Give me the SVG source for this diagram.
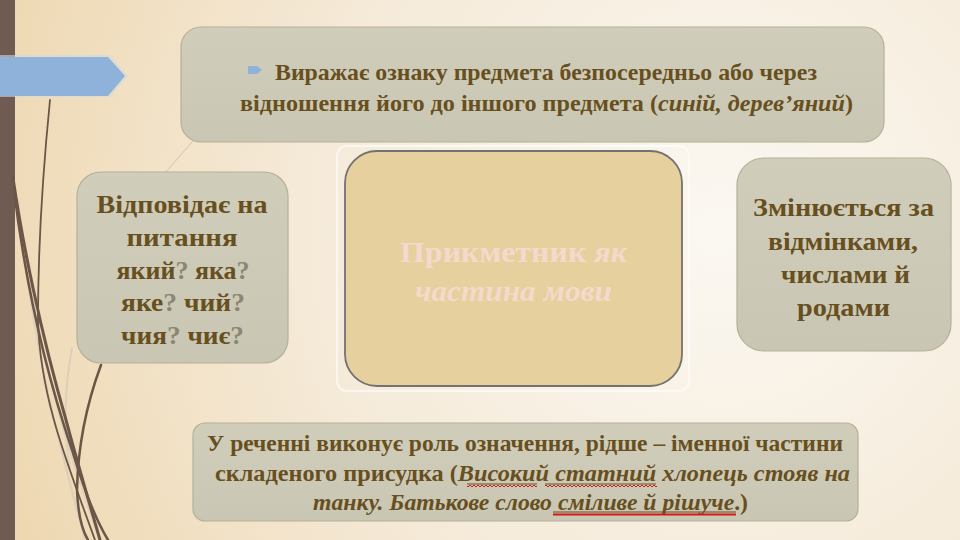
<svg xmlns="http://www.w3.org/2000/svg" width="960" height="540" viewBox="0 0 960 540">
<defs>
<radialGradient id="bg" cx="720" cy="230" r="760" gradientUnits="userSpaceOnUse">
<stop offset="0" stop-color="#fbf8f2"/>
<stop offset="0.55" stop-color="#f5ead8"/>
<stop offset="1" stop-color="#eed8b2"/>
</radialGradient>
<linearGradient id="boxg" x1="0" y1="0" x2="0" y2="1">
<stop offset="0" stop-color="#d0cebb"/>
<stop offset="1" stop-color="#c9c7b3"/>
</linearGradient>
<pattern id="wavy" width="4" height="4" patternUnits="userSpaceOnUse">
<path d="M0,3 L2,1 L4,3" stroke="#d41818" stroke-width="1" fill="none"/>
</pattern>
<style>
.box{fill:url(#boxg);stroke:#b5b098;stroke-width:1.2}
text{font-family:'Liberation Serif','DejaVu Serif',serif}
.t{font-weight:bold;fill:#684f20;text-anchor:middle}
.q{fill:#8c8674}
.it{font-style:italic}
.ctr{font-weight:bold;fill:#f5d9cc;text-anchor:middle;font-size:30px}
.deco{fill:none;stroke:#6b5647;stroke-linecap:round}
.faint{fill:none;stroke:#ddd0b8;stroke-linecap:round}
</style>
</defs>
<rect x="0" y="0" width="960" height="540" fill="url(#bg)"/>
<rect x="0" y="0" width="15" height="540" fill="#6f5b51"/>
<g id="decor">
<path class="faint" stroke-width="2" d="M18,200 C30,330 55,430 85,540"/>
<path class="faint" stroke-width="2" d="M72,348 C66,380 62,420 70,470"/>
<path class="faint" stroke-width="1.5" d="M28,260 C40,360 70,460 100,540"/>
<path class="deco" stroke-width="1.8" d="M50,100 C44,160 38,240 38,320 C40,400 70,470 95,540"/>
<path class="deco" stroke-width="3" d="M13,178 C22,240 40,330 66,420 C78,465 90,505 100,540"/>
<path class="deco" stroke-width="2.5" d="M14,190 C25,280 45,370 72,450 C84,490 96,520 108,540"/>
<path class="deco" stroke-width="2.5" d="M101,365 C88,400 78,440 77,490 C78,515 82,530 88,540"/>
</g>
<g id="banner">
<polygon points="0,55 110,55 128,76 110,97 0,97" fill="#d4d8dc" opacity="0.6"/>
<polygon points="0,57 108,57 125,76 108,96 0,96" fill="#8fb2da"/>
</g>
<g id="connectors">
<line x1="193" y1="141" x2="164" y2="174" stroke="#cfc6b4" stroke-width="1"/>
</g>
<g id="top-node">
<rect class="box" x="181" y="27" width="703" height="115" rx="20"/>
<path d="M248,66 L257,66 L262,70 L257,74 L248,74 Z" fill="#8fb2da"/>
<text class="t" x="546" y="80" font-size="24" textLength="542" lengthAdjust="spacingAndGlyphs">Виражає ознаку предмета безпосередньо або через</text>
<text class="t" x="546.5" y="111" font-size="24" textLength="613" lengthAdjust="spacingAndGlyphs">відношення його до іншого предмета (<tspan class="it">синій, дерев’яний</tspan>)</text>
</g>
<g id="left-node">
<rect class="box" x="77" y="172" width="211" height="191" rx="24"/>
<text class="t" x="182" y="213" font-size="25" textLength="171" lengthAdjust="spacingAndGlyphs">Відповідає на</text>
<text class="t" x="182" y="246" font-size="25" textLength="111" lengthAdjust="spacingAndGlyphs">питання</text>
<text class="t" x="183" y="279" font-size="25" textLength="133" lengthAdjust="spacingAndGlyphs">який<tspan class="q">?</tspan> яка<tspan class="q">?</tspan></text>
<text class="t" x="183" y="311" font-size="25" textLength="124" lengthAdjust="spacingAndGlyphs">яке<tspan class="q">?</tspan> чий<tspan class="q">?</tspan></text>
<text class="t" x="182.5" y="344" font-size="25" textLength="123" lengthAdjust="spacingAndGlyphs">чия<tspan class="q">?</tspan> чиє<tspan class="q">?</tspan></text>
</g>
<g id="center-node">
<rect x="337" y="146" width="352" height="245" rx="10" fill="none" stroke="#ffffff" stroke-opacity="0.6" stroke-width="2"/>
<rect x="345" y="151" width="337" height="235" rx="32" fill="#e6d09e" stroke="#737171" stroke-width="1.8"/>
<text class="ctr" x="513.5" y="262" textLength="227" lengthAdjust="spacingAndGlyphs">Прикметник <tspan class="it">як</tspan></text>
<text class="ctr it" x="513.5" y="301" textLength="197" lengthAdjust="spacingAndGlyphs">частина мови</text>
</g>
<g id="right-node">
<rect class="box" x="737" y="158" width="214" height="193" rx="27"/>
<text class="t" x="843.5" y="216" font-size="25" textLength="181" lengthAdjust="spacingAndGlyphs">Змінюється за</text>
<text class="t" x="843" y="250" font-size="25" textLength="150" lengthAdjust="spacingAndGlyphs">відмінками,</text>
<text class="t" x="845.5" y="283" font-size="25" textLength="129" lengthAdjust="spacingAndGlyphs">числами й</text>
<text class="t" x="843.5" y="316" font-size="25" textLength="93" lengthAdjust="spacingAndGlyphs">родами</text>
</g>
<g id="bottom-node">
<rect class="box" x="193" y="423" width="665" height="98" rx="12"/>
<text class="t" x="525" y="451" font-size="23" textLength="636" lengthAdjust="spacingAndGlyphs">У реченні виконує роль означення, рідше – іменної частини</text>
<text class="t" x="532.5" y="481" font-size="23" textLength="635" lengthAdjust="spacingAndGlyphs">складеного присудка (<tspan class="it">Високий статний хлопець стояв на</tspan></text>
<text class="t" x="530.5" y="510" font-size="23" textLength="435" lengthAdjust="spacingAndGlyphs"><tspan class="it">танку. Батькове слово сміливе й рішуче</tspan>.)</text>
<line x1="467" y1="484" x2="537" y2="484" stroke="#684f20" stroke-width="1"/>
<line x1="545" y1="484" x2="656" y2="484" stroke="#684f20" stroke-width="1"/>
<rect x="467" y="484" width="70" height="4" fill="url(#wavy)"/>
<rect x="545" y="484" width="112" height="4" fill="url(#wavy)"/>
<line x1="553" y1="512" x2="736" y2="512" stroke="#684f20" stroke-width="1"/>
<line x1="553" y1="514.5" x2="736" y2="514.5" stroke="#d41818" stroke-width="2"/>
</g>
</svg>
